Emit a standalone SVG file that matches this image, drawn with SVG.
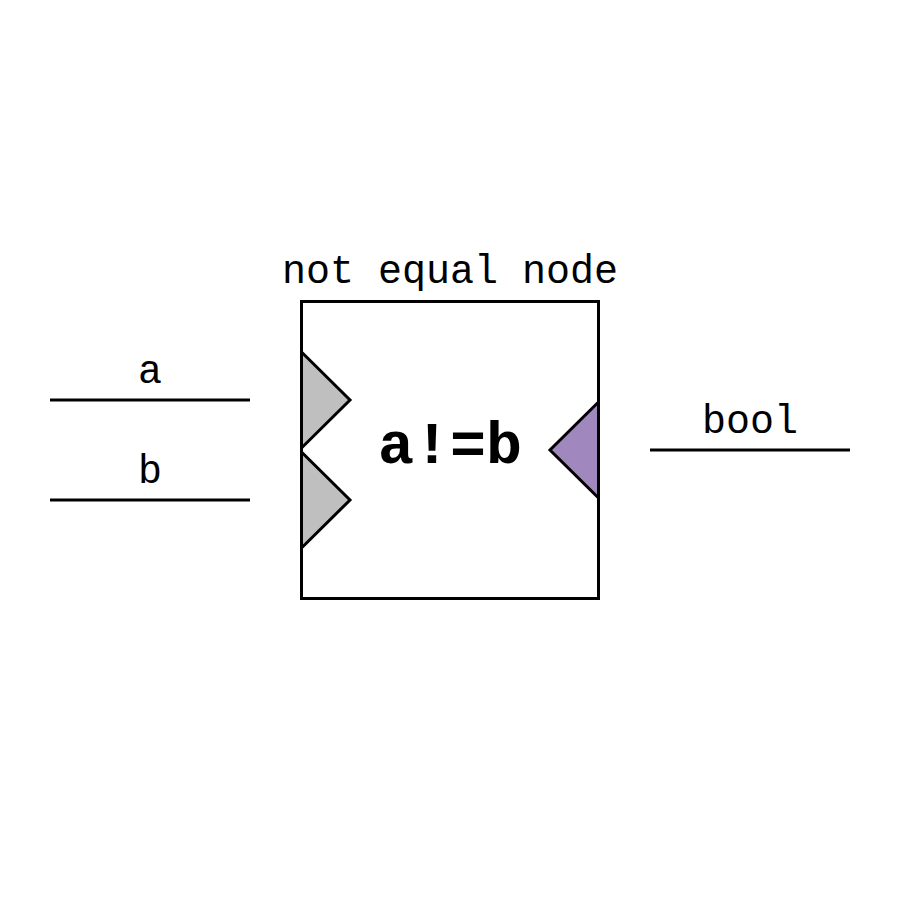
<svg xmlns="http://www.w3.org/2000/svg" width="900" height="900" viewBox="0 0 900 900">
<style>
.lbl{font-family:"Liberation Mono","Courier New",monospace;font-size:40px;fill:#000;text-anchor:middle}
.big{font-family:"Liberation Mono","Courier New",monospace;font-size:60px;font-weight:bold;fill:#000;text-anchor:middle}
.edge{stroke:#000;stroke-width:3;fill:none}
.box{fill:#fff;stroke:#000;stroke-width:3}
.in{fill:#bfbfbf;stroke:#000;stroke-width:3;stroke-linejoin:miter}
.out{fill:#a087bd;stroke:#000;stroke-width:3}
</style>
<rect width="900" height="900" fill="#fff"/>
<g id="connectors">
<line class="edge" x1="50" y1="400" x2="250" y2="400"/>
<line class="edge" x1="50" y1="500" x2="250" y2="500"/>
<line class="edge" x1="650" y1="450" x2="850" y2="450"/>
<text class="lbl" x="150" y="383">a</text>
<text class="lbl" x="150" y="483">b</text>
<text class="lbl" x="750" y="433">bool</text>
</g>
<g id="node">
<text class="lbl" x="450" y="283">not equal node</text>
<rect class="box" x="301.5" y="301.5" width="297" height="297"/>
<polygon class="in" points="301.5,352 350,400 301.5,448"/>
<polygon class="in" points="301.5,452 350,500 301.5,548"/>
<polygon class="out" points="598.5,402 550,450 598.5,498"/>
<text class="big" x="450" y="463">a!=b</text>
</g>
</svg>
